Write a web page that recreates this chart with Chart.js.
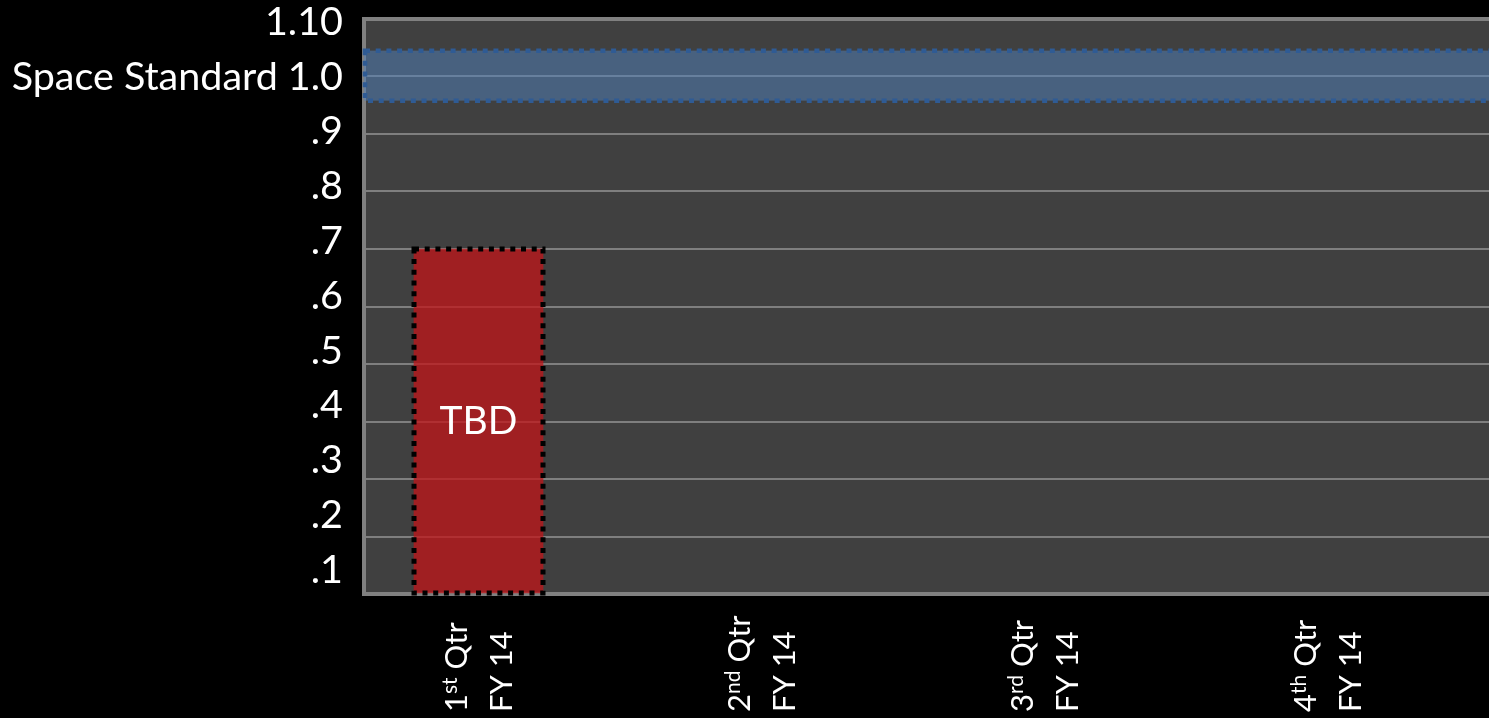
<!DOCTYPE html>
<html>
<head>
<meta charset="utf-8">
<title>Space Standard FY 14</title>
<script src="https://cdn.jsdelivr.net/npm/chart.js@4.4.1/dist/chart.umd.min.js"></script>
<style>
  html, body { margin: 0; padding: 0; background: #000; overflow: hidden; width: 1489px; height: 718px; }
  #wrap { position: absolute; left: 0; top: 0; width: 1520px; height: 740px; }
</style>
</head>
<body>
<div id="wrap"><canvas id="chart" width="1520" height="740"></canvas></div>
<script>
// Quarterly space use against the space standard, FY 14
const quarterNumbers = ['1', '2', '3', '4'];
const quarterSuffixes = ['st', 'nd', 'rd', 'th'];
const fiscalYears = ['FY 14', 'FY 14', 'FY 14', 'FY 14'];
const quarterPositions = [1, 2, 3, 4];
const quarterValues = [0.7, null, null, null];
const quarterNotes = ['TBD', '', '', ''];
const standardBand = [0.958, 1.045];
const yTickValues = [0.1, 0.2, 0.3, 0.4, 0.5, 0.6, 0.7, 0.8, 0.9, 1.0, 1.1];
const yTickLabels = ['.1', '.2', '.3', '.4', '.5', '.6', '.7', '.8', '.9', 'Space Standard 1.0', '1.10'];
const Y_MIN = 0.1;
const Y_MAX = 1.1;

const FONT = "Lato, 'DejaVu Sans', sans-serif";
const DOTS = [5, 5.7];

// Plot background, frame and the shaded standard band
const plotFrame = {
  id: 'plotFrame',
  beforeDraw(chart) {
    const { ctx, chartArea: a } = chart;
    ctx.save();
    ctx.fillStyle = '#404040';
    ctx.fillRect(a.left, a.top, a.right - a.left, a.bottom - a.top);
    ctx.restore();
  },
  beforeDatasetsDraw(chart) {
    const { ctx, chartArea: a, scales } = chart;
    ctx.save();
    ctx.strokeStyle = '#808080';
    ctx.lineWidth = 4;
    ctx.strokeRect(a.left, a.top, a.right - a.left, a.bottom - a.top);

    const yTop = scales.y.getPixelForValue(standardBand[1]);
    const yBot = scales.y.getPixelForValue(standardBand[0]);
    ctx.fillStyle = 'rgba(79,129,189,0.5)';
    ctx.fillRect(a.left, yTop, a.right - a.left, yBot - yTop);
    ctx.setLineDash(DOTS);
    ctx.lineWidth = 4.5;
    ctx.strokeStyle = '#2f5b94';
    ctx.strokeRect(a.left + 1, yTop, a.right - a.left, yBot - yTop);
    ctx.restore();
  }
};

// Dotted outline and note text on each bar
const barDecor = {
  id: 'barDecor',
  afterDatasetsDraw(chart) {
    const { ctx } = chart;
    const meta = chart.getDatasetMeta(0);
    meta.data.forEach((bar, i) => {
      if (quarterValues[i] == null) return;
      const { x, y, base, width } = bar.getProps(['x', 'y', 'base', 'width'], true);
      ctx.save();
      ctx.setLineDash(DOTS);
      ctx.lineWidth = 5;
      ctx.strokeStyle = '#000';
      ctx.strokeRect(x - width / 2, y, width, base - y);
      ctx.setLineDash([]);
      ctx.fillStyle = '#fff';
      ctx.font = `39px ${FONT}`;
      ctx.textAlign = 'center';
      ctx.textBaseline = 'middle';
      ctx.fillText(quarterNotes[i], x, (y + base) / 2);
      ctx.restore();
    });
  }
};

// Vertical two-line quarter labels with superscript ordinals, read bottom to top
const quarterLabels = {
  id: 'quarterLabels',
  afterDraw(chart) {
    const { ctx, scales: { x }, chartArea: a } = chart;
    const size = 31, supSize = 21, supRise = 10;
    quarterPositions.forEach((p, i) => {
      const cx = x.getPixelForValue(p);
      ctx.save();
      ctx.translate(cx, a.bottom + 118);
      ctx.rotate(-Math.PI / 2);
      ctx.fillStyle = '#fff';
      ctx.textBaseline = 'alphabetic';
      ctx.textAlign = 'left';
      const segs = [
        { t: quarterNumbers[i], s: size, r: 0 },
        { t: quarterSuffixes[i], s: supSize, r: supRise },
        { t: ' Qtr', s: size, r: 0 }
      ];
      let tx = 0;
      segs.forEach(sg => {
        ctx.font = `${sg.s}px ${FONT}`;
        ctx.fillText(sg.t, tx, -11.5 - sg.r);
        tx += ctx.measureText(sg.t).width;
      });
      ctx.font = `${size}px ${FONT}`;
      ctx.fillText(fiscalYears[i], 0, 33.5);
      ctx.restore();
    });
  }
};

new Chart(document.getElementById('chart'), {
  type: 'bar',
  data: {
    datasets: [{
      data: quarterPositions.map((p, i) => ({ x: p, y: quarterValues[i] })),
      backgroundColor: 'rgba(192,20,24,0.75)',
      borderWidth: 0,
      barThickness: 129,
      base: Y_MIN,
      xAxisID: 'x',
      yAxisID: 'y'
    }]
  },
  options: {
    responsive: false,
    animation: false,
    devicePixelRatio: 1,
    layout: { padding: { top: 19, right: 0, bottom: 0, left: 0 } },
    plugins: { legend: { display: false }, tooltip: { enabled: false } },
    scales: {
      x: {
        type: 'linear',
        offset: false,
        bounds: 'data',
        min: 0.5954,
        max: 4.68,
        grid: { display: false, drawTicks: false, offset: false },
        border: { display: false },
        ticks: { display: false },
        afterBuildTicks(s) { s.ticks = quarterPositions.map(v => ({ value: v })); },
        afterFit(s) { s.height = 146; s.paddingLeft = 0; s.paddingRight = 0; }
      },
      y: {
        position: 'left',
        min: Y_MIN,
        max: Y_MAX,
        ticks: { display: false, stepSize: 0.1 },
        grid: { color: '#7f7f7f', lineWidth: 2, drawTicks: false },
        border: { display: false },
        afterFit(s) { s.width = 0; s.paddingTop = 0; s.paddingBottom = 0; }
      },
      yLabels: {
        position: 'left',
        min: 0.0562,
        max: 1.1055,
        grid: { display: false, drawTicks: false },
        border: { display: false },
        afterBuildTicks(s) { s.ticks = yTickValues.map(v => ({ value: v })); },
        ticks: {
          color: '#fff',
          font: { family: FONT, size: 39.5 },
          padding: 21,
          autoSkip: false,
          callback(v, i) { return yTickLabels[i]; }
        },
        afterFit(s) { s.width = 364; s.paddingTop = 0; s.paddingBottom = 0; }
      }
    }
  },
  plugins: [plotFrame, barDecor, quarterLabels]
});
</script>
</body>
</html>
